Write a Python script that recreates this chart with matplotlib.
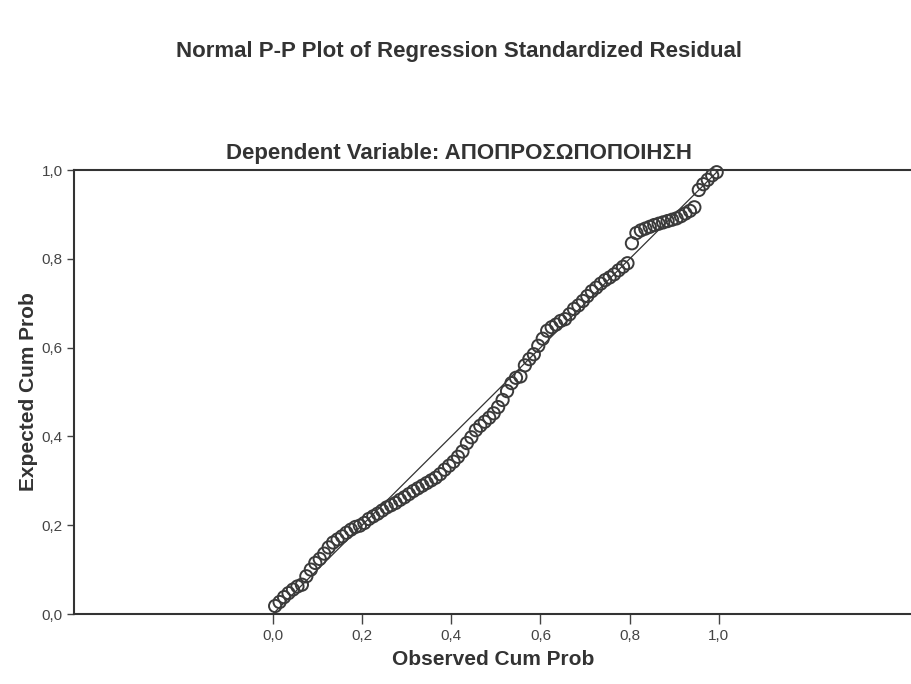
import matplotlib
matplotlib.use("Agg")
import matplotlib.pyplot as plt

# observed cumulative probability (x) and expected cumulative probability (y)
observed_cum = [
    0.005, 0.015, 0.025, 0.035, 0.045, 0.055, 0.065, 0.075, 0.085, 0.095,
    0.105, 0.115, 0.125, 0.135, 0.145, 0.155, 0.165, 0.175, 0.185, 0.195,
    0.205, 0.215, 0.225, 0.235, 0.245, 0.255, 0.265, 0.275, 0.285, 0.295,
    0.305, 0.315, 0.325, 0.335, 0.345, 0.355, 0.365, 0.375, 0.385, 0.395,
    0.405, 0.415, 0.425, 0.435, 0.445, 0.455, 0.465, 0.475, 0.485, 0.495,
    0.505, 0.515, 0.525, 0.535, 0.545, 0.555, 0.565, 0.575, 0.585, 0.595,
    0.605, 0.615, 0.625, 0.635, 0.645, 0.655, 0.665, 0.675, 0.685, 0.695,
    0.705, 0.715, 0.725, 0.735, 0.745, 0.755, 0.765, 0.775, 0.785, 0.795,
    0.805, 0.815, 0.825, 0.835, 0.845, 0.855, 0.865, 0.875, 0.885, 0.895,
    0.905, 0.915, 0.925, 0.935, 0.945, 0.955, 0.965, 0.975, 0.985, 0.995,
]
expected_cum = [
    0.018, 0.027, 0.038, 0.047, 0.055, 0.062, 0.066, 0.085, 0.100, 0.115,
    0.124, 0.136, 0.150, 0.161, 0.168, 0.175, 0.183, 0.190, 0.196, 0.199,
    0.205, 0.214, 0.220, 0.226, 0.233, 0.240, 0.245, 0.250, 0.257, 0.263,
    0.270, 0.277, 0.283, 0.289, 0.295, 0.301, 0.307, 0.315, 0.325, 0.334,
    0.343, 0.354, 0.366, 0.385, 0.398, 0.414, 0.424, 0.433, 0.442, 0.452,
    0.466, 0.482, 0.502, 0.520, 0.532, 0.535, 0.560, 0.574, 0.585, 0.604,
    0.620, 0.638, 0.646, 0.652, 0.660, 0.664, 0.675, 0.687, 0.695, 0.705,
    0.716, 0.727, 0.735, 0.744, 0.752, 0.758, 0.765, 0.774, 0.782, 0.790,
    0.835, 0.858, 0.864, 0.868, 0.872, 0.876, 0.879, 0.882, 0.885, 0.888,
    0.891, 0.896, 0.902, 0.908, 0.916, 0.955, 0.968, 0.978, 0.988, 0.995,
]
ref_line = [0.0, 1.0]
tick_values = [0.0, 0.2, 0.4, 0.6, 0.8, 1.0]
tick_labels = ["0,0", "0,2", "0,4", "0,6", "0,8", "1,0"]

plt.rcParams["font.family"] = ["Liberation Sans", "DejaVu Sans"]
ink = "#333333"

fig = plt.figure(figsize=(9.12, 6.84), dpi=100)
ax = fig.add_axes([74 / 912, 1 - 614 / 684, 1 - 74 / 912, (614 - 170) / 684])

ax.plot(ref_line, ref_line, color=ink, linewidth=0.9, zorder=2)
ax.scatter(observed_cum, expected_cum, s=78, facecolors="none",
           edgecolors="#3a3a3a", linewidths=1.4, zorder=3, clip_on=False)

ax.set_xlim(-0.446, 1.433)
ax.set_ylim(0.0, 1.0)
ax.set_xticks(tick_values)
ax.set_xticklabels(tick_labels)
ax.set_yticks(tick_values)
ax.set_yticklabels(tick_labels)
ax.tick_params(axis="both", direction="out", length=5, width=1.0,
               colors="#444444", labelsize=11, pad=3)
ax.tick_params(axis="x", length=7, pad=4)

for side in ("left", "bottom", "top"):
    ax.spines[side].set_color(ink)
    ax.spines[side].set_linewidth(1.5)
ax.spines["right"].set_visible(False)

ax.set_xlabel("Observed Cum Prob", fontsize=15, fontweight="bold",
              color=ink, labelpad=5)
ax.set_ylabel("Expected Cum Prob", fontsize=15, fontweight="bold",
              color=ink, labelpad=3)

fig.text(0.503, 1 - 51 / 684, "Normal P-P Plot of Regression Standardized Residual",
         ha="center", va="center", fontsize=16, fontweight="bold", color=ink)
fig.text(0.503, 1 - 153 / 684, "Dependent Variable: ΑΠΟΠΡΟΣΩΠΟΠΟΙΗΣΗ",
         ha="center", va="center", fontsize=16, fontweight="bold", color=ink)

fig.savefig("out.png", dpi=100)
